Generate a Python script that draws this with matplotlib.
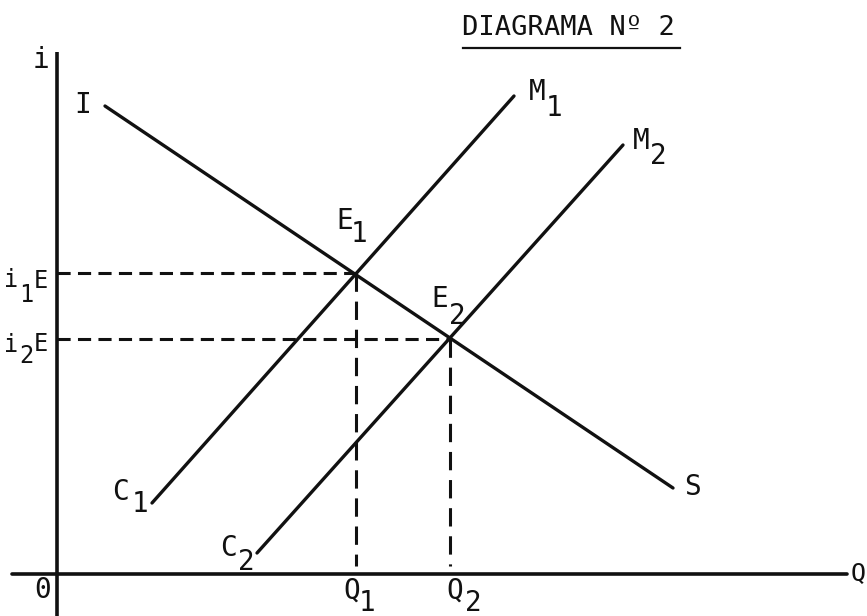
import matplotlib
matplotlib.use("Agg")
import matplotlib.pyplot as plt

# ---- data (quantity Q on x, interest rate i on y; arbitrary units) ----
is_q = [4.8, 61.6]          # curve I-S
is_i = [46.8, 8.6]
m1_q = [9.5, 45.7]          # curve C1-M1
m1_i = [7.1, 47.8]
m2_q = [20.0, 56.6]         # curve C2-M2
m2_i = [2.1, 42.9]
eq_q = [29.9, 39.3]         # equilibria E1, E2
eq_i = [30.1, 23.5]
title = "DIAGRAMA Nº 2"

# ---- figure ----
W, H = 867, 616
fig = plt.figure(figsize=(W / 100, H / 100), dpi=100)
ax = fig.add_axes([0, 0, 1, 1])
OX, OY, S = 57, 574, 10.0   # pixel origin and px per unit
ax.set_xlim((0 - OX) / S, (W - OX) / S)
ax.set_ylim((OY - H) / S, (OY - 0) / S)
ax.axis("off")

def P(px, py):
    return (px - OX) / S, (OY - py) / S

ink = "#111111"
lw = 2.4
# axes
ax.plot([0, 0], [(OY - H) / S, (OY - 52) / S], color=ink, lw=2.6, solid_capstyle="butt")
ax.plot([(12 - OX) / S, (847 - OX) / S], [0, 0], color=ink, lw=2.6, solid_capstyle="round")

# curves
ax.plot(is_q, is_i, color=ink, lw=lw, solid_capstyle="round")
ax.plot(m1_q, m1_i, color=ink, lw=lw, solid_capstyle="round")
ax.plot(m2_q, m2_i, color=ink, lw=lw, solid_capstyle="round")

# dashed guides
for q, i in zip(eq_q, eq_i):
    ax.plot([0, q], [i, i], color=ink, lw=2.2, linestyle=(0, (4.3, 2.4)))
    ax.plot([q, q], [i, 0.8], color=ink, lw=2.2, linestyle=(0, (6.0, 3.2)))

fs = 20
fam = "DejaVu Sans Mono"
labels = [
    ("i", 41, 60), ("I", 83, 105),
    ("M", 537, 92), ("1", 554, 108),
    ("M", 641, 141), ("2", 658, 156),
    ("E", 345, 221), ("1", 359, 234),
    ("E", 440, 299), ("2", 457, 316),
    ("C", 121, 492), ("1", 140, 504),
    ("C", 228, 548), ("2", 246, 562),
    ("S", 692, 487),
    ("0", 43, 590),
    ("Q", 352, 591), ("1", 367, 603),
    ("Q", 455, 591), ("2", 473, 603),
]
for t, px, py in labels:
    x, y = P(px, py)
    ax.text(x, y, t, fontsize=fs, family=fam, color=ink, ha="center", va="center")

# i1E / i2E labels on the vertical axis
small = [
    ("i", 11, 280), ("1", 26, 295), ("E", 41, 281),
    ("i", 11, 345), ("2", 26, 356), ("E", 41, 344),
]
for t, px, py in small:
    x, y = P(px, py)
    ax.text(x, y, t, fontsize=17, family=fam, color=ink, ha="center", va="center")

# right "Q" at the end of the horizontal axis
x, y = P(851, 573)
ax.text(x, y, "Q", fontsize=fs - 2, family=fam, color=ink, ha="left", va="center")

# title with underline
x, y = P(568, 28)
ax.text(x, y, title, fontsize=19.5, family=fam, color=ink, ha="center", va="center")
ax.plot([(463 - OX) / S, (680 - OX) / S], [(OY - 48) / S] * 2, color=ink, lw=1.6)

fig.savefig("out.png", dpi=100, facecolor="white")
